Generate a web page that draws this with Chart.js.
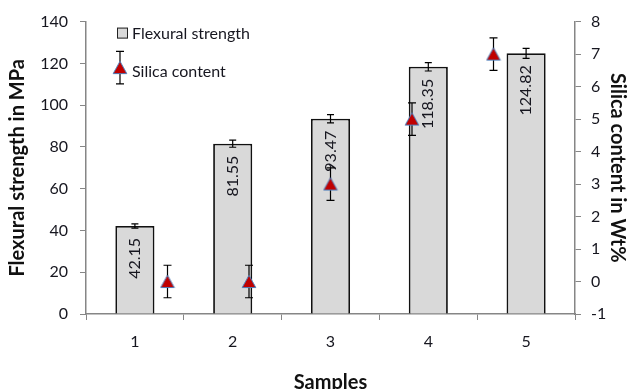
<!DOCTYPE html>
<html>
<head>
<meta charset="utf-8">
<script src="https://cdn.jsdelivr.net/npm/chart.js@4"></script>
<style>
  html, body { margin: 0; padding: 0; background: #ffffff; }
  #wrap { width: 627px; height: 389px; }
</style>
</head>
<body>
<div id="wrap"><canvas id="c" width="627" height="389"></canvas></div>
<script>
// ---- data ----
const categories = ['1', '2', '3', '4', '5'];
const flexural = [42.15, 81.55, 93.47, 118.35, 124.82];
const flexuralErr = [1.0, 1.7, 2.0, 2.0, 2.4];
const silicaPos = [1, 2, 3, 4, 5];
const silica = [0, 0, 3, 5, 7];
const silicaErr = [0.5, 0.5, 0.5, 0.5, 0.5];
const leftTicks = [0, 20, 40, 60, 80, 100, 120, 140];
const rightTicks = [-1, 0, 1, 2, 3, 4, 5, 6, 7, 8];
const seriesNames = ['Flexural strength', 'Silica content'];
const axisTitles = ['Samples', 'Flexural strength in MPa', 'Silica content in Wt%'];

const FONT = 'Lato';
const TXT = '#16161f';
const AXIS = '#868686';

// triangle marker image, centred on its bounding box
const tri = document.createElement('canvas');
tri.width = 16; tri.height = 15;
(function () {
  const c = tri.getContext('2d');
  c.fillStyle = '#C00000';
  c.strokeStyle = '#4F81BD';
  c.lineWidth = 1;
  c.beginPath();
  c.moveTo(8, 1.2);
  c.lineTo(14.8, 13.5);
  c.lineTo(1.2, 13.5);
  c.closePath();
  c.fill();
  c.stroke();
})();

function capLine(ctx, x, y1, y2, cap) {
  ctx.beginPath();
  ctx.moveTo(x, y1); ctx.lineTo(x, y2);
  ctx.moveTo(x - cap, y1); ctx.lineTo(x + cap, y1);
  ctx.moveTo(x - cap, y2); ctx.lineTo(x + cap, y2);
  ctx.stroke();
}

const overlay = {
  id: 'overlay',
  afterDatasetDraw(chart, args) {
    if (args.index !== 0) return;
    const ctx = chart.ctx;
    const meta = chart.getDatasetMeta(0);
    const y = chart.scales.y;
    ctx.save();
    ctx.strokeStyle = '#000';
    ctx.lineWidth = 1.2;
    meta.data.forEach((bar, i) => {
      capLine(ctx, bar.x, y.getPixelForValue(flexural[i] + flexuralErr[i]), y.getPixelForValue(flexural[i] - flexuralErr[i]), 3.5);
    });
    ctx.fillStyle = TXT;
    ctx.font = '16px ' + FONT;
    ctx.textAlign = 'right';
    ctx.textBaseline = 'middle';
    meta.data.forEach((bar, i) => {
      ctx.save();
      ctx.translate(bar.x, bar.y + 12);
      ctx.rotate(-Math.PI / 2);
      ctx.fillText(flexural[i].toFixed(2), 0, 0);
      ctx.restore();
    });
    ctx.restore();
  },
  beforeDatasetDraw(chart, args) {
    if (args.index !== 1) return;
    const ctx = chart.ctx;
    const x2 = chart.scales.x2, y2 = chart.scales.y2;
    ctx.save();
    ctx.strokeStyle = '#000';
    ctx.lineWidth = 1.2;
    silica.forEach((v, i) => {
      capLine(ctx, x2.getPixelForValue(silicaPos[i]), y2.getPixelForValue(v + silicaErr[i]), y2.getPixelForValue(v - silicaErr[i]), 4);
    });
    ctx.restore();
  },
  afterDraw(chart) {
    const ctx = chart.ctx;
    const ca = chart.chartArea;
    const y2 = chart.scales.y2;
    ctx.save();
    // legend item 1
    const bx = ca.left + 31, by = ca.top + 6;
    ctx.fillStyle = '#D9D9D9';
    ctx.fillRect(bx, by, 11, 11);
    ctx.strokeStyle = '#222';
    ctx.lineWidth = 1;
    ctx.strokeRect(bx + 0.5, by + 0.5, 10, 10);
    ctx.fillStyle = TXT;
    ctx.font = '16px ' + FONT;
    ctx.textAlign = 'left';
    ctx.textBaseline = 'middle';
    ctx.fillText(seriesNames[0], bx + 15, by + 6);
    // legend item 2
    const tx = ca.left + 34, ty = ca.top + 46;
    const half = (y2.getPixelForValue(0) - y2.getPixelForValue(0.5));
    ctx.strokeStyle = '#000';
    ctx.lineWidth = 1.2;
    capLine(ctx, tx, ty - half, ty + half, 4);
    ctx.drawImage(tri, tx - tri.width / 2, ty - tri.height / 2);
    ctx.fillStyle = TXT;
    ctx.fillText(seriesNames[1], bx + 15, ty + 4);
    ctx.restore();
  }
};

new Chart(document.getElementById('c'), {
  type: 'bar',
  data: {
    labels: categories,
    datasets: [
      {
        type: 'bar',
        label: seriesNames[0],
        data: flexural,
        xAxisID: 'x',
        yAxisID: 'y',
        backgroundColor: '#D9D9D9',
        borderColor: '#111111',
        borderWidth: 1.8,
        barPercentage: 0.4,
        categoryPercentage: 1.0,
        grouped: false,
        order: 1
      },
      {
        type: 'scatter',
        label: seriesNames[1],
        data: silicaPos.map((p, i) => ({x: p, y: silica[i]})),
        xAxisID: 'x2',
        yAxisID: 'y2',
        pointStyle: tri,
        pointRadius: 7.5,
        backgroundColor: '#C00000',
        borderColor: '#4F81BD',
        borderWidth: 1,
        showLine: false,
        order: 0
      }
    ]
  },
  options: {
    responsive: false,
    animation: false,
    devicePixelRatio: 1,
    layout: { padding: { top: 18, left: 0, right: 0, bottom: 0 } },
    plugins: { legend: { display: false }, tooltip: { enabled: false } },
    scales: {
      x: {
        type: 'category',
        position: 'bottom',
        offset: true,
        grid: { offset: true, drawOnChartArea: false, drawTicks: true, tickLength: 6, color: AXIS },
        border: { color: AXIS, width: 1.5 },
        ticks: { color: TXT, font: { family: FONT, size: 16 }, padding: 12, maxRotation: 0 },
        title: { display: true, text: axisTitles[0], color: '#111', font: { family: FONT, size: 20, weight: 'bold' }, padding: { top: 0, bottom: -6 } },
        afterFit(s) { s.height = 75; }
      },
      x2: {
        type: 'linear',
        display: false,
        offset: false,
        grid: { offset: false },
        min: 0,
        max: 6
      },
      y: {
        type: 'linear',
        position: 'left',
        min: 0,
        max: 140,
        afterBuildTicks(s) { s.ticks = leftTicks.map(v => ({value: v})); },
        grid: { drawOnChartArea: false, drawTicks: true, tickLength: 6, color: AXIS },
        border: { color: AXIS, width: 1.5 },
        ticks: { color: TXT, font: { family: FONT, size: 16 }, padding: 12 },
        title: { display: true, text: axisTitles[1], color: '#111', font: { family: FONT, size: 20, weight: 'bold' }, padding: { top: 6, bottom: 0 } },
        afterFit(s) { s.width = 86; }
      },
      y2: {
        type: 'linear',
        position: 'right',
        min: -1,
        max: 8,
        afterBuildTicks(s) { s.ticks = rightTicks.map(v => ({value: v})); },
        grid: { drawOnChartArea: false, drawTicks: true, tickLength: 6, color: AXIS },
        border: { color: AXIS, width: 1.5 },
        ticks: { color: TXT, font: { family: FONT, size: 16 }, padding: 10 },
        title: { display: true, text: axisTitles[2], color: '#111', font: { family: FONT, size: 20, weight: 'bold' }, padding: { top: -2, bottom: 0 } },
        afterFit(s) { s.width = 52; }
      }
    }
  },
  plugins: [overlay]
});
</script>
</body>
</html>
